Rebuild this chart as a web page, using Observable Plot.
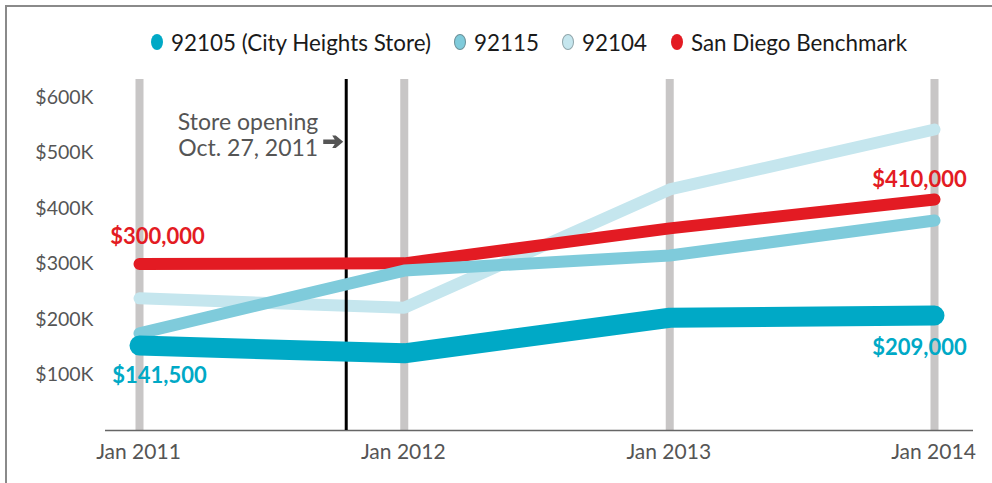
<!DOCTYPE html>
<html>
<head>
<meta charset="utf-8">
<script src="https://cdn.jsdelivr.net/npm/d3@7"></script>
<script src="https://cdn.jsdelivr.net/npm/@observablehq/plot@0.6"></script>
<style>
  html, body { margin: 0; padding: 0; background: #fff; }
  #wrap { position: relative; width: 992px; height: 483px; overflow: hidden; font-family: Lato, "Open Sans", sans-serif; }
  #bt { position: absolute; left: 5px; top: 5px; width: 990px; height: 2px; background: #8a8a8a; }
  #bl { position: absolute; left: 5px; top: 5px; width: 2px; height: 480px; background: #8a8a8a; }
  #legend { position: absolute; left: 0; top: 0; width: 992px; height: 70px; }
  #legend .item { position: absolute; top: 29px; height: 26px; display: flex; align-items: center; font-size: 22.4px; color: #1a1a1a; white-space: nowrap; }
  #legend .dot { display: inline-block; flex: none; width: 12px; height: 16px; border-radius: 50%; margin-right: 8px; box-sizing: border-box; }
  #chart { position: absolute; left: 0; top: 70px; }
</style>
</head>
<body>
<div id="wrap">
  <div id="bt"></div><div id="bl"></div>
  <div id="legend"></div>
  <div id="chart"></div>
</div>
<script>
// ---- data ----
const years = ["2011-01-01", "2012-01-01", "2013-01-01", "2014-01-01"];
const seriesNames = ["92105 (City Heights Store)", "92115", "92104", "San Diego Benchmark"];
const v92105 = [153000, 139000, 203000, 207000];
const v92115 = [175000, 288000, 315000, 378000];
const v92104 = [238000, 221000, 434000, 542000];
const vSanDiego = [300000, 301000, 364000, 416000];
const yTicks = [100000, 200000, 300000, 400000, 500000, 600000];
const yTickLabels = ["$100K", "$200K", "$300K", "$400K", "$500K", "$600K"];
const xTickLabels = ["Jan 2011", "Jan 2012", "Jan 2013", "Jan 2014"];
const storeOpeningDrawn = "2011-10-13"; // position as drawn in the picture
const storeLabel = "Store opening\nOct. 27, 2011";
const endLabels92105 = ["$141,500", "$209,000"];
const endLabelsSD = ["$300,000", "$410,000"];

// ---- styling ----
const colors = ["#00a9c6", "#7fcbdb", "#c5e6ee", "#e31b23"];
const dotStroke = [null, "#6a8f97", "#8fa5aa", null];
const legendLeft = [151, 454, 562, 671];

const dates = years.map(d => new Date(d));
const toRows = vals => vals.map((v, i) => ({date: dates[i], value: v}));
const rows92105 = toRows(v92105), rows92115 = toRows(v92115), rows92104 = toRows(v92104), rowsSD = toRows(vSanDiego);

// legend
const lg = document.getElementById("legend");
seriesNames.forEach((name, i) => {
  const it = document.createElement("div");
  it.className = "item";
  it.style.left = legendLeft[i] + "px";
  const dot = document.createElement("span");
  dot.className = "dot";
  dot.style.background = colors[i];
  if (dotStroke[i]) dot.style.border = "1px solid " + dotStroke[i];
  it.appendChild(dot);
  const t = document.createElement("span");
  t.textContent = name;
  it.appendChild(t);
  lg.appendChild(it);
});

// heavy right arrow symbol for the annotation
const arrowSymbol = {
  draw(ctx, size) {
    const r = Math.sqrt(size / Math.PI);
    const h = r * 0.22, hw = r * 0.62, hx = r * 0.15;
    ctx.moveTo(-r, -h);
    ctx.lineTo(hx, -h);
    ctx.lineTo(hx - r * 0.25, -hw);
    ctx.lineTo(hx + r * 0.1, -hw);
    ctx.lineTo(r, 0);
    ctx.lineTo(hx + r * 0.1, hw);
    ctx.lineTo(hx - r * 0.25, hw);
    ctx.lineTo(hx, h);
    ctx.lineTo(-r, h);
    ctx.closePath();
  }
};

const yMax = 632000;
const store = new Date(storeOpeningDrawn);

const plot = Plot.plot({
  width: 992,
  height: 413,
  marginTop: 9,
  marginBottom: 53,
  marginLeft: 105,
  marginRight: 19,
  insetLeft: 34,
  insetRight: 39,
  x: {type: "utc", domain: [dates[0], dates[3]], axis: null},
  y: {domain: [0, yMax], axis: null},
  style: {fontFamily: "Lato, 'Open Sans', sans-serif", background: "transparent", overflow: "visible"},
  marks: [
    Plot.ruleX(dates, {x: d => d, y1: 0, y2: yMax, stroke: "#c8c6c6", strokeWidth: 8}),
    Plot.ruleY([0], {stroke: "#666", strokeWidth: 1.5}),
    Plot.line(rows92104, {x: "date", y: "value", stroke: colors[2], strokeWidth: 12, strokeLinejoin: "miter", strokeLinecap: "round"}),
    Plot.ruleX([store], {x: d => d, y1: 0, y2: yMax, stroke: "#000", strokeWidth: 3}),
    Plot.line(rowsSD, {x: "date", y: "value", stroke: colors[3], strokeWidth: 12, strokeLinejoin: "miter", strokeLinecap: "round"}),
    Plot.line(rows92115, {x: "date", y: "value", stroke: colors[1], strokeWidth: 12, strokeLinejoin: "miter", strokeLinecap: "round"}),
    Plot.line(rows92105, {x: "date", y: "value", stroke: colors[0], strokeWidth: 20, strokeLinejoin: "miter", strokeLinecap: "round"}),
    // y tick labels
    Plot.text(yTicks, {y: d => d, text: (d, i) => yTickLabels[i], frameAnchor: "left", textAnchor: "end", dx: -12, fontSize: 19.5, fill: "#555"}),
    // x tick labels
    Plot.text(dates, {x: d => d, y: 0, text: (d, i) => xTickLabels[i], dy: 22, dx: -1, fontSize: 21, fill: "#555"}),
    // store opening annotation
    Plot.text([store], {x: d => d, y: 532000, text: [storeLabel], textAnchor: "end", dx: -28, fontSize: 23, lineHeight: 1.12, fill: "#555"}),
    Plot.dot([store], {x: d => d, y: 520000, symbol: arrowSymbol, r: 10, dx: -13, fill: "#555", stroke: "none"}),
    // value labels
    Plot.text([rowsSD[0]], {x: "date", y: "value", text: [endLabelsSD[0]], dx: 18, dy: -27, fontSize: 22, fontWeight: "bold", fill: colors[3]}),
    Plot.text([rowsSD[3]], {x: "date", y: "value", text: [endLabelsSD[1]], dx: -15, dy: -20, fontSize: 22, fontWeight: "bold", fill: colors[3]}),
    Plot.text([rows92105[0]], {x: "date", y: "value", text: [endLabels92105[0]], dx: 20, dy: 30, fontSize: 22, fontWeight: "bold", fill: colors[0]}),
    Plot.text([rows92105[3]], {x: "date", y: "value", text: [endLabels92105[1]], dx: -15, dy: 32, fontSize: 22, fontWeight: "bold", fill: colors[0]})
  ]
});
document.getElementById("chart").appendChild(plot);
</script>
</body>
</html>
